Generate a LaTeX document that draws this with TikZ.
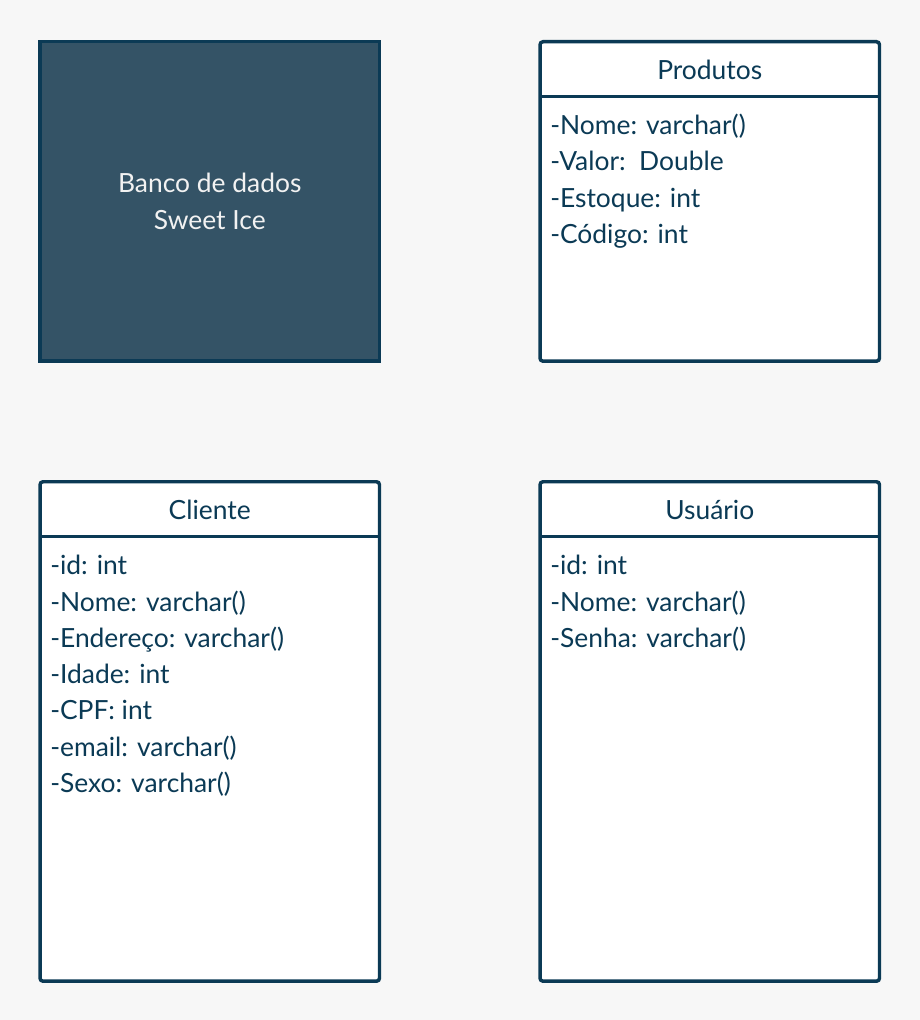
\documentclass[tikz,border=0pt]{standalone}
\usepackage{fontspec}
\setmainfont{Lato}
\usetikzlibrary{positioning}
\definecolor{umlblue}{HTML}{0B3A55}
\definecolor{dbfill}{HTML}{345366}
\definecolor{bggray}{HTML}{F7F7F7}

\begin{document}
\begin{tikzpicture}
      [x=0.75pt, y=-0.75pt,
       every node/.style={inner sep=0pt, text=umlblue, font=\fontsize{19.8}{27.2}\selectfont},
       classbox/.style={draw=umlblue, line width=2.6pt, fill=white, rounded corners=2.25pt, minimum width=254.6pt, anchor=north},
       classtitle/.style={minimum width=254.6pt, text height=29.25pt, text depth=12.75pt, anchor=north},
       sepline/.style={draw=umlblue, line width=2.6pt},
       attrs/.style={align=left, anchor=base west}]
      \fill [bggray] (0,0) rectangle (920,1020);

      \node [classbox, rounded corners=0pt, fill=dbfill, minimum height=239.6pt, text=white!95!black, align=center, font=\fontsize{19.8}{27.5}\selectfont] (banco) at (209.75,40) {Banco de dados\\Sweet Ice};

      % base anchor = last line
      \node [classbox, minimum height=239.6pt] (produtos) at (709.75,40) {};
      \node [classtitle] (produtosT) at (produtos.north) {Produtos};
      \draw [sepline] (produtosT.south west) -- (produtosT.south east);
      \node [attrs] (produtosA) at (550,243.5) {-Nome: varchar()\\-Valor:\ \ Double\\-Estoque: int\\-Código: int};

      \node [classbox, minimum height=374.6pt] (cliente) at (209.75,480) {};
      \node [classtitle] (clienteT) at (cliente.north) {Cliente};
      \draw [sepline] (clienteT.south west) -- (clienteT.south east);
      \node [attrs] (clienteA) at (50,792.5) {-id: int\\-Nome: varchar()\\-Endereço: varchar()\\-Idade: int\\-CPF: int\\-email: varchar()\\-Sexo: varchar()};

      \node [classbox, minimum height=374.6pt] (usuario) at (709.75,480) {};
      \node [classtitle] (usuarioT) at (usuario.north) {Usuário};
      \draw [sepline] (usuarioT.south west) -- (usuarioT.south east);
      \node [attrs] (usuarioA) at (550,647.5) {-id: int\\-Nome: varchar()\\-Senha: varchar()};
    \end{tikzpicture}
\end{document}
